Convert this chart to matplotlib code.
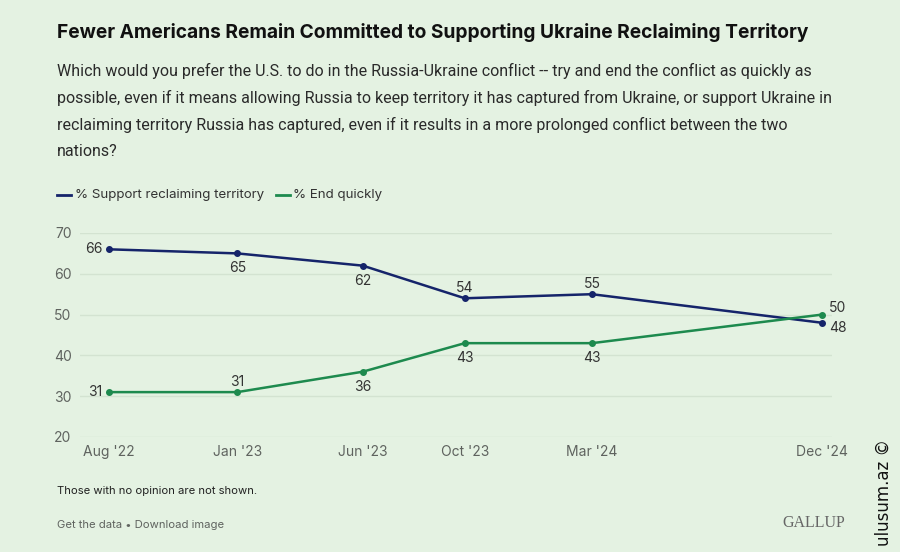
import numpy as np
import matplotlib
matplotlib.use('Agg')
import matplotlib.pyplot as plt
from datetime import date, timedelta

# survey waves (approximate field dates) and tick labels
dates = [date(2022, 8, 10), date(2023, 1, 10), date(2023, 6, 9),
         date(2023, 10, 9), date(2024, 3, 9), date(2024, 12, 9)]
tick_labels = ["Aug '22", "Jan '23", "Jun '23", "Oct '23", "Mar '24", "Dec '24"]
support = [66, 65, 62, 54, 55, 48]
end_quickly = [31, 31, 36, 43, 43, 50]

# label placement per point: (dx, dy, ha) in points, text vertically centred
support_lbl = [(-5, 0, 'right'), (0, -10.8, 'center'), (0, -10.8, 'center'),
               (0, 7.2, 'center'), (0, 7.2, 'center'), (5, -3.6, 'left')]
end_lbl = [(-5, 0, 'right'), (0, 7.2, 'center'), (0, -10.8, 'center'),
           (0, -10.8, 'center'), (0, -10.8, 'center'), (5, 5, 'left')]

BG = '#e4f2e2'
NAVY = '#15246a'
GREEN = '#1d8a4e'
GRID = '#d3e3d1'
GREY = '#5f635f'
plt.rcParams['font.family'] = ['Inter', 'DejaVu Sans']

fig = plt.figure(figsize=(9, 5.52), dpi=100, facecolor=BG)
ax = fig.add_axes([80/900, 115/552, 752/900, 204/552])
ax.set_facecolor(BG)

ax.plot(dates, support, color=NAVY, lw=1.8, marker='o', ms=4, zorder=3)
ax.plot(dates, end_quickly, color=GREEN, lw=1.8, marker='o', ms=4, zorder=3)

for d, v, (dx, dy, ha) in zip(dates, support, support_lbl):
    ax.annotate(str(v), (d, v), xytext=(dx, dy), textcoords='offset points',
                ha=ha, va='center', fontsize=10, color='#333333')
for d, v, (dx, dy, ha) in zip(dates, end_quickly, end_lbl):
    ax.annotate(str(v), (d, v), xytext=(dx, dy), textcoords='offset points',
                ha=ha, va='center', fontsize=10, color='#333333')

ax.set_ylim(20, 70)
ax.set_yticks([20, 30, 40, 50, 60, 70])
ax.set_xlim(dates[0] - timedelta(days=35), dates[-1] + timedelta(days=12))
ax.set_xticks(dates)
ax.set_xticklabels(tick_labels)
ax.grid(axis='y', color=GRID, lw=1)
ax.set_axisbelow(True)
for s in ax.spines.values():
    s.set_visible(False)
ax.tick_params(length=0, labelsize=10, colors=GREY)
ax.tick_params(axis='y', pad=6)
ax.tick_params(axis='x', pad=6)

# titles
fig.text(57/900, 1 - 32/552, 'Fewer Americans Remain Committed to Supporting Ukraine Reclaiming Territory',
         fontsize=13.8, fontweight='bold', color='#111111', va='center')
sub = ["Which would you prefer the U.S. to do in the Russia-Ukraine conflict -- try and end the conflict as quickly as",
       "possible, even if it means allowing Russia to keep territory it has captured from Ukraine, or support Ukraine in",
       "reclaiming territory Russia has captured, even if it results in a more prolonged conflict between the two",
       "nations?"]
for i, line in enumerate(sub):
    fig.text(57/900, 1 - (71 + 27*i)/552, line, fontsize=11.5, color='#2a2a2a', va='center',
             family='Roboto')

# legend
fig.add_artist(plt.Line2D([57/900, 71/900], [1 - 195/552]*2, color=NAVY, lw=2))
fig.text(75/900, 1 - 195/552, '% Support reclaiming territory', fontsize=9.6, color='#333333', va='center')
fig.add_artist(plt.Line2D([276/900, 290/900], [1 - 195/552]*2, color=GREEN, lw=2))
fig.text(293/900, 1 - 195/552, '% End quickly', fontsize=9.6, color='#333333', va='center')

# footer
fig.text(57/900, 1 - 491/552, 'Those with no opinion are not shown.', fontsize=8.1, color='#222222', va='center')
fig.text(57/900, 1 - 525/552, 'Get the data \u2022 Download image', fontsize=8.1, color=GREY, va='center')
fig.text(845/900, 1 - 523/552, 'GALLUP', fontsize=11.5, family='Liberation Serif', color='#666666',
         va='center', ha='right')
fig.text(884/900, 1 - 492/552, 'ulusum.az \u00a9', fontsize=12, color='#111111', rotation=90,
         va='center', ha='center', family='DejaVu Sans')

fig.savefig('out.png', dpi=100, facecolor=BG)
